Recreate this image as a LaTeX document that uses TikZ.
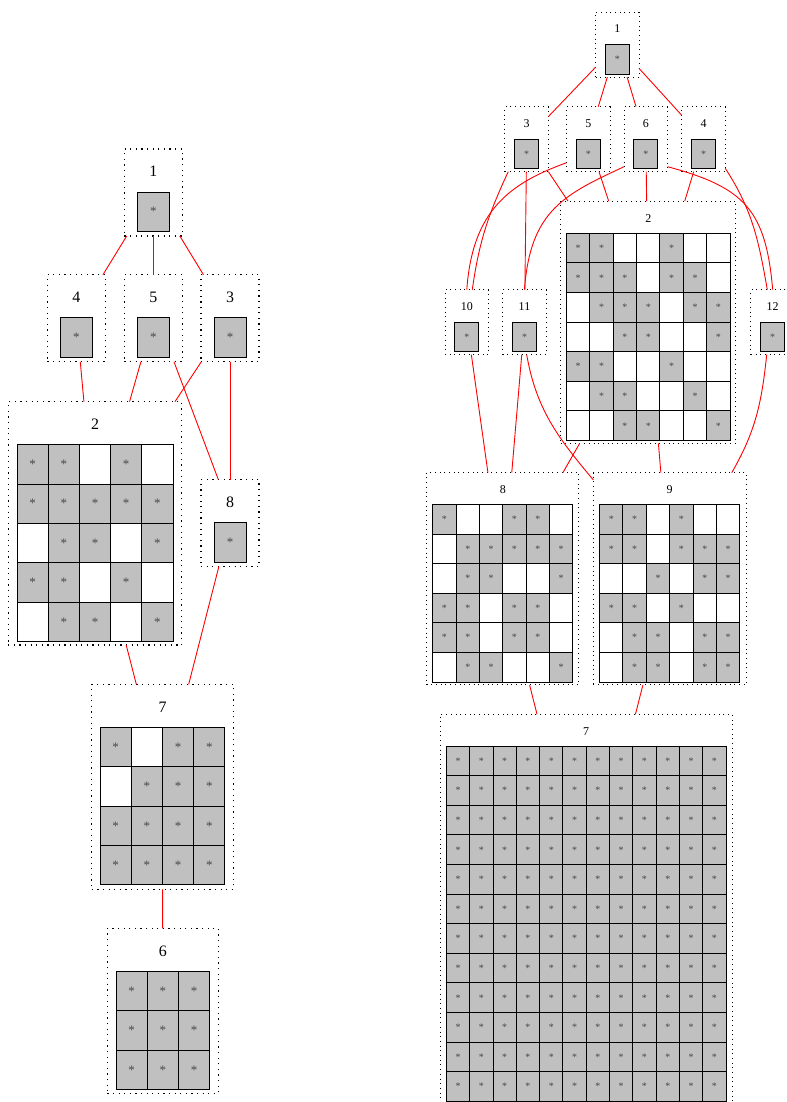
\documentclass[tikz,border=0pt]{standalone}
\usepackage{fontspec}
\setmainfont{Liberation Serif}
\usetikzlibrary{calc}
\definecolor{cellgray}{RGB}{192,192,192}
\tikzset{
  bigbox/.style={draw, dash pattern=on 1.2bp off 4.4bp, line width=1.2bp, inner sep=0pt, outer sep=0pt},
  smallbox/.style={draw, dash pattern=on 1bp off 3.7bp, line width=1bp, inner sep=0pt, outer sep=0pt},
  bigtitle/.style={font=\fontsize{16}{16}\selectfont, inner sep=0pt},
  smalltitle/.style={font=\fontsize{12}{12}\selectfont, inner sep=0pt},
  cell/.style={draw, line width=1bp, inner sep=0pt, outer sep=0pt, text=black!72, fill=white},
  fullcell/.style={cell, fill=cellgray},
  link/.style={red, line width=0.9bp}
}
\newcommand{\cellgrid}[7]{%
  \begin{scope}[shift={(#1.north)}]
    \foreach \row [count=\i] in {#7} {
      \foreach \c [count=\j] in \row {
        \ifnum\c=1
          \node[fullcell, minimum width=#3bp, minimum height=#4bp, font=\fontsize{#6}{#6}\selectfont]
            (#1-\i-\j) at ({(\j-0.5-#2/2)*#3}, {-#5-(\i-0.5)*#4}) {*};
        \else
          \node[cell, minimum width=#3bp, minimum height=#4bp]
            (#1-\i-\j) at ({(\j-0.5-#2/2)*#3}, {-#5-(\i-0.5)*#4}) {};
        \fi
      }
    }
  \end{scope}}

\begin{document}
\begin{tikzpicture}[x=1bp, y=1bp]
  \useasboundingbox (0,0) rectangle (787,-1102);

  \node[bigbox, minimum width=58bp, minimum height=87bp] (L1) at (153.3,-192.5) {};
  \node[bigbox, minimum width=58bp, minimum height=87bp] (L4) at (76.3,-318.3) {};
  \node[bigbox, minimum width=58bp, minimum height=87bp] (L5) at (153.3,-318.3) {};
  \node[bigbox, minimum width=58bp, minimum height=87bp] (L3) at (230,-318.3) {};
  \node[bigbox, minimum width=58bp, minimum height=87bp] (L8) at (230,-523) {};
  \node[bigbox, minimum width=173.4bp, minimum height=243.3bp] (L2) at (95,-523.3) {};
  \node[bigbox, minimum width=141.6bp, minimum height=205bp] (L7) at (162.5,-786.8) {};
  \node[bigbox, minimum width=111bp, minimum height=165bp] (L6) at (162.8,-1010.8) {};

  \foreach \n/\t in {L1/1, L4/4, L5/5, L3/3, L8/8, L2/2, L7/7, L6/6}
    \node[bigtitle] (\n-t) at ($(\n.north)+(0,-22.5)$) {\t};

  \cellgrid{L1}{1}{32}{39.5}{43}{13}{{1}}
  \cellgrid{L4}{1}{32}{39.5}{43}{13}{{1}}
  \cellgrid{L5}{1}{32}{39.5}{43}{13}{{1}}
  \cellgrid{L3}{1}{32}{39.5}{43}{13}{{1}}
  \cellgrid{L8}{1}{32}{39.5}{43}{13}{{1}}
  \cellgrid{L2}{5}{31.2}{39.4}{43}{13}{{1,1,0,1,0},{1,1,1,1,1},{0,1,1,0,1},{1,1,0,1,0},{0,1,1,0,1}}
  \cellgrid{L7}{4}{31.2}{39.4}{43}{13}{{1,0,1,1},{0,1,1,1},{1,1,1,1},{1,1,1,1}}
  \cellgrid{L6}{3}{31.2}{39.4}{43}{13}{{1,1,1},{1,1,1},{1,1,1}}

  \draw[link] (L1) -- (L4);
  \draw[link] (L1) -- (L5);
  \draw[link] (L1) -- (L3);
  \draw[link] (L4) -- (L2);
  \draw[link] (L5) -- (L2);
  \draw[link] (L3) -- (L2);
  \draw[link] ($(L5.south east)+(-8.3,0)$) -- ($(L8.north west)+(17.3,0)$);
  \draw[link] (L3) -- (L8);
  \draw[link] (L2) -- (L7);
  \draw[link] (L8) -- (L7);
  \draw[link] (L7) -- (L6);

  \node[smallbox, minimum width=43.5bp, minimum height=65bp] (R1) at (617.3,-44.5) {};
  \node[smallbox, minimum width=43.5bp, minimum height=65bp] (R3) at (526.7,-139.2) {};
  \node[smallbox, minimum width=43.5bp, minimum height=65bp] (R5) at (588.3,-139.2) {};
  \node[smallbox, minimum width=43.5bp, minimum height=65bp] (R6) at (645.8,-139.2) {};
  \node[smallbox, minimum width=43.5bp, minimum height=65bp] (R4) at (703.5,-139.2) {};
  \node[smallbox, minimum width=43.5bp, minimum height=65bp] (R10) at (466.8,-322.2) {};
  \node[smallbox, minimum width=43.5bp, minimum height=65bp] (R11) at (524.5,-322.2) {};
  \node[smallbox, minimum width=43.5bp, minimum height=65bp] (R12) at (772.7,-322.2) {};
  \node[smallbox, minimum width=175.3bp, minimum height=242.3bp] (R2) at (648.3,-322.2) {};
  \node[smallbox, minimum width=152.3bp, minimum height=212.3bp] (R8) at (502.8,-578.8) {};
  \node[smallbox, minimum width=152.7bp, minimum height=212.3bp] (R9) at (669.7,-578.8) {};
  \node[smallbox, minimum width=292.3bp, minimum height=390.7bp] (R7) at (586.2,-909.7) {};

  \foreach \n/\t in {R1/1, R3/3, R5/5, R6/6, R4/4, R10/10, R11/11, R12/12, R2/2, R8/8, R9/9, R7/7}
    \node[smalltitle] (\n-t) at ($(\n.north)+(0,-17)$) {\t};

  \cellgrid{R1}{1}{24}{29.7}{32.3}{10}{{1}}
  \cellgrid{R3}{1}{24}{29.7}{32.3}{10}{{1}}
  \cellgrid{R5}{1}{24}{29.7}{32.3}{10}{{1}}
  \cellgrid{R6}{1}{24}{29.7}{32.3}{10}{{1}}
  \cellgrid{R4}{1}{24}{29.7}{32.3}{10}{{1}}
  \cellgrid{R10}{1}{24}{29.7}{32.3}{10}{{1}}
  \cellgrid{R11}{1}{24}{29.7}{32.3}{10}{{1}}
  \cellgrid{R12}{1}{24}{29.7}{32.3}{10}{{1}}
  \cellgrid{R2}{7}{23.36}{29.6}{32.3}{10}{{1,1,0,0,1,0,0},{1,1,1,0,1,1,0},{0,1,1,1,0,1,1},{0,0,1,1,0,0,1},{1,1,0,0,1,0,0},{0,1,1,0,0,1,0},{0,0,1,1,0,0,1}}
  \cellgrid{R8}{6}{23.36}{29.6}{31.8}{10}{{1,0,0,1,1,0},{0,1,1,1,1,1},{0,1,1,0,0,1},{1,1,0,1,1,0},{1,1,0,1,1,0},{0,1,1,0,0,1}}
  \cellgrid{R9}{6}{23.36}{29.6}{31.8}{10}{{1,1,0,1,0,0},{1,1,0,1,1,1},{0,0,1,0,1,1},{1,1,0,1,0,0},{0,1,1,0,1,1},{0,1,1,0,1,1}}
  \cellgrid{R7}{12}{23.3}{29.6}{31.8}{10}{{1,1,1,1,1,1,1,1,1,1,1,1},{1,1,1,1,1,1,1,1,1,1,1,1},{1,1,1,1,1,1,1,1,1,1,1,1},{1,1,1,1,1,1,1,1,1,1,1,1},{1,1,1,1,1,1,1,1,1,1,1,1},{1,1,1,1,1,1,1,1,1,1,1,1},{1,1,1,1,1,1,1,1,1,1,1,1},{1,1,1,1,1,1,1,1,1,1,1,1},{1,1,1,1,1,1,1,1,1,1,1,1},{1,1,1,1,1,1,1,1,1,1,1,1},{1,1,1,1,1,1,1,1,1,1,1,1},{1,1,1,1,1,1,1,1,1,1,1,1}}

  \draw[link] (R1) -- (R3);
  \draw[link] (R1) -- (R5);
  \draw[link] (R1) -- (R6);
  \draw[link] (R1) -- (R4);
  \draw[link] (R3) -- (R2);
  \draw[link] (R5) -- (R2);
  \draw[link] (R6) -- (R2);
  \draw[link] (R4) -- (R2);
  \draw[link] (R3) -- (R11);
  \draw[link] ($(R3.south west)+(3.3,0)$) to[out=-115, in=82] ($(R10.north)+(5.5,0)$);
  \draw[link] ($(R5.south west)+(0,9)$) .. controls +(-160:60) and +(86:80) .. (R10.north);
  \draw[link] ($(R6.south west)+(0,5)$) .. controls +(-155:65) and +(86:80) .. (R11.north);
  \draw[link] ($(R6.south east)+(0,5)$) .. controls +(-15:80) and +(95:80) .. (R12.north);
  \draw[link] ($(R4.south east)+(0,3.4)$) to[out=-57, in=100] ($(R12.north)+(-5.4,0)$);
  \draw[link] (R10) -- (R8);
  \draw[link] (R11) -- (R8);
  \draw[link] (R2) -- (R8);
  \draw[link] (R2) -- (R9);
  \draw[link] ($(R11.south)+(2.2,0)$) to[out=-80, in=130] ($(R9.north west)+(0,-7.3)$);
  \draw[link] ($(R12.south)+(-6,0)$) to[out=-96, in=60] ($(R9.north east)+(-14.3,0)$);
  \draw[link] (R8) -- (R7);
  \draw[link] (R9) -- (R7);
\end{tikzpicture}
\end{document}
